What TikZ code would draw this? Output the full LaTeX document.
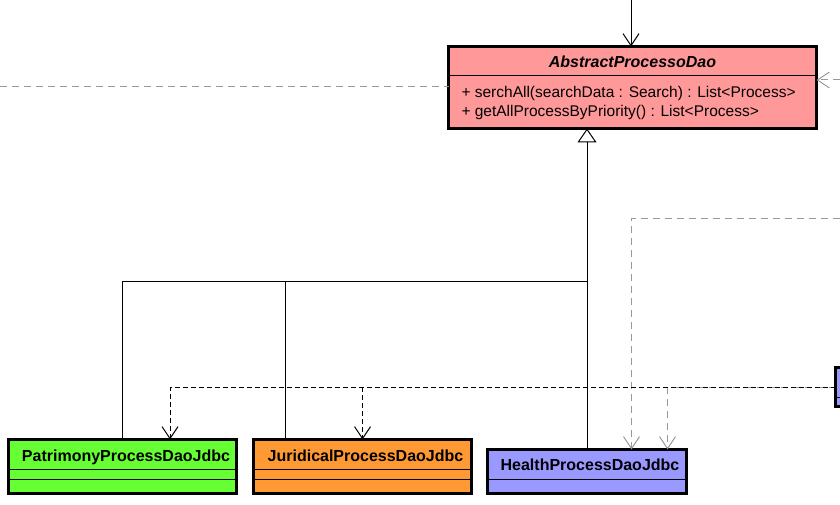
\documentclass[tikz,border=0pt]{standalone}
\usepackage{fontspec}
\setmainfont{Liberation Sans}
\usetikzlibrary{arrows.meta}

\definecolor{daored}{HTML}{FF9999}
\definecolor{daogreen}{HTML}{66FF33}
\definecolor{daoorange}{HTML}{FF9933}
\definecolor{daoblue}{HTML}{9999FF}
\definecolor{daogray}{HTML}{999999}

\begin{document}
\begin{tikzpicture}[
            x=1pt,y=-1pt,
            every node/.style={
                inner sep=0pt,outer sep=0pt,
                font=\fontsize{15.5}{18}\selectfont
            },
            classbox/.style={
                draw,line width=3pt,rectangle,anchor=north west
            },
            classname/.style={anchor=base,font=\fontsize{16}{18}\selectfont\bfseries},
            operation/.style={anchor=base west},
            compart/.style={line width=1pt},
            inherit/.style={line width=1pt,-{Triangle[length=14pt,width=19pt,fill=white]}},
            assoc/.style={line width=1pt,-{Straight Barb[length=12pt,width=16pt]}},
            uses/.style={assoc,dash pattern=on 5pt off 3pt},
            grayuses/.style={uses,daogray,dash pattern=on 7pt off 5pt},
        ]
    \useasboundingbox (0,0) rectangle (840,505);
    % Classes
        \node[classbox,fill=daored,minimum width=368pt,minimum height=82pt] (abstract) at (448.5,46.5) {};
        \node[classbox,fill=daogreen,minimum width=228pt,minimum height=54pt] (patrimony) at (8.5,439.5) {};
        \node[classbox,fill=daoorange,minimum width=218pt,minimum height=54pt] (juridical) at (253.5,439.5) {};
        \node[classbox,fill=daoblue,minimum width=199pt,minimum height=44pt] (health) at (487.5,449.5) {};
        \node[classbox,fill=daoblue,minimum width=100pt,minimum height=39pt] (rightclass) at (835.5,367.5) {};
    % Compartments
        \draw[compart] ([yshift=-29pt]abstract.north west) -- ([yshift=-29pt]abstract.north east);
    \foreach\c in {patrimony,juridical}{
        \draw[compart] ([yshift=-30pt]\c.north west) -- ([yshift=-30pt]\c.north east);
        \draw[compart] ([yshift=-40pt]\c.north west) -- ([yshift=-40pt]\c.north east);
    }
        \draw[compart] ([yshift=-30pt]health.north west) -- ([yshift=-30pt]health.north east);
        \draw[compart] ([yshift=-29.5pt]rightclass.north west) -- ([yshift=-29.5pt]rightclass.north east);
    % Labels
        \node[classname] (abstractname) at ([yshift=-21.5pt]abstract.north) {\itshape AbstractProcessoDao};
        \node[operation] (serchall) at ([xshift=13pt,yshift=-51pt]abstract.north west) {+ serchAll(searchData : Search) : List<Process>};
        \node[operation] (priority) at ([xshift=13pt,yshift=-70.5pt]abstract.north west) {+ getAllProcessByPriority() : List<Process>};
        \node[classname] (patrimonyname) at ([xshift=3.5pt,yshift=-21.5pt]patrimony.north) {PatrimonyProcessDaoJdbc};
        \node[classname] (juridicalname) at ([xshift=3pt,yshift=-21.5pt]juridical.north) {JuridicalProcessDaoJdbc};
        \node[classname] (healthname) at ([xshift=3pt,yshift=-21pt]health.north) {HealthProcessDaoJdbc};
    % Generalization
        \coordinate (hub) at (587,281);
        \draw[line width=1pt] (patrimony.north) |- (hub);
        \draw[line width=1pt] ([xshift=31.5pt]juridical.north west) |- (hub);
        \draw[line width=1pt] (health.north) -- (hub);
        \draw[inherit] (hub) -- (health.north |- abstract.south);
    % Dependencies
        \coordinate (topsrc) at (631,0);
        \coordinate (grayleft) at (0,87);
        \coordinate (grayright) at (840,80);
        \coordinate (graytop) at (840,218);
        \coordinate (fork) at (362.5,387);
        \draw[grayuses,-] (grayleft) -- (grayleft -| abstract.west);
        \draw[grayuses] (grayright) -- (grayright -| abstract.east);
        \draw[grayuses] (graytop) -| ([xshift=44.5pt]health.north);
        \draw[grayuses] ([yshift=-19.5pt]rightclass.north west) -| ([xshift=80.5pt]health.north);
        \draw[uses] ([yshift=-19.5pt]rightclass.north west) -| ([xshift=47.5pt]patrimony.north);
        \draw[uses] (fork) -- (juridical.north);
        \draw[assoc] (topsrc) -- (topsrc |- abstract.north);
\end{tikzpicture}
\end{document}
